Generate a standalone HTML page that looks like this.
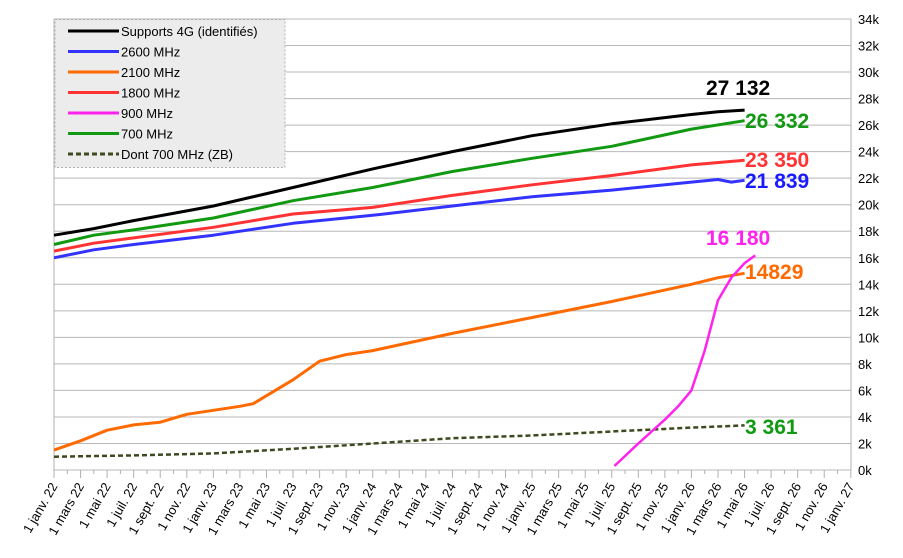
<!DOCTYPE html>
<html><head><meta charset="utf-8"><style>
body{margin:0;background:#fff;}
svg text{font-family:"Liberation Sans",sans-serif;}
</style></head><body>
<svg id="c" width="903" height="553" xmlns="http://www.w3.org/2000/svg"></svg>
<script>
const s=document.getElementById('c');let h='';
const X=m=>54+m*13.28, Y=v=>470-v*0.013265;
for(let k=0;k<=34;k+=2){const y=Y(k*1000);h+=`<line x1="54" x2="851" y1="${y}" y2="${y}" stroke="#b8b8b8"/>`;
h+=`<text x="858" y="${y+5}" font-size="13">${k}k</text>`;}
h+=`<line x1="54" x2="54" y1="19" y2="470" stroke="#b0b0b0"/><line x1="851" x2="851" y1="19" y2="470" stroke="#b0b0b0"/>`;
const mn=['janv.','mars','mai','juil.','sept.','nov.'];
for(let m=0;m<=60;m++){const x=X(m);h+=`<line x1="${x}" x2="${x}" y1="470" y2="${m%2?474:478}" stroke="#b0b0b0"/>`;
if(m%2==0){const t='1 '+mn[(m%12)/2]+' '+(22+Math.floor(m/12));h+=`<text x="${x+4}" y="486" font-size="13" text-anchor="end" transform="rotate(-60 ${x+4} 486)">${t}</text>`;}}
function ser(pts,col,w,dash){let d=pts.map((p,i)=>(i?'L':'M')+X(p[0]).toFixed(1)+' '+Y(p[1]).toFixed(1)).join('');
h+=`<path d="${d}" fill="none" stroke="${col}" stroke-width="${w}" stroke-linejoin="round" ${dash?'stroke-dasharray="5,3"':''}/>`;}
ser([[0,1000],[6,1100],[12,1250],[18,1600],[24,2000],[30,2400],[36,2600],[42,2900],[48,3200],[52,3361]],'#3d4a1e',2.5,1);
ser([[0,1500],[2,2200],[4,3000],[6,3400],[8,3600],[10,4200],[12,4500],[14,4800],[15,5000],[16,5600],[18,6800],[20,8200],[22,8700],[24,9000],[30,10300],[36,11500],[42,12700],[48,14000],[50,14500],[52,14829]],'#ff6a00',3);
ser([[0,16000],[3,16600],[6,17000],[12,17700],[18,18600],[24,19200],[30,19900],[36,20600],[42,21100],[48,21700],[50,21900],[51,21700],[52,21839]],'#3333ff',3);
ser([[0,16500],[3,17100],[6,17500],[12,18300],[18,19300],[24,19800],[30,20700],[36,21500],[42,22200],[48,23000],[52,23350]],'#ff3333',3);
ser([[0,17000],[3,17700],[6,18100],[12,19000],[18,20300],[24,21300],[30,22500],[36,23500],[42,24400],[48,25700],[52,26332]],'#119911',3);
ser([[0,17700],[3,18200],[6,18800],[12,19900],[18,21300],[24,22700],[30,24000],[36,25200],[42,26100],[48,26800],[50,27000],[52,27132]],'#000',3);
ser([[42.2,300],[44,2000],[46,3800],[47,4800],[48,6000],[49,9000],[50,12800],[51,14500],[52,15600],[52.8,16180]],'#ff22ee',2.5);
const lb=[[706,95,'27 132','#000'],[745,128,'26 332','#119911'],[745,167,'23 350','#ff3333'],[745,188,'21 839','#1a1aff'],[706,245,'16 180','#ff22ee'],[745,279,'14829','#ff6a00'],[745,434,'3 361','#119911']];
lb.forEach(l=>h+=`<text x="${l[0]}" y="${l[1]}" font-size="21" font-weight="bold" fill="${l[3]}">${l[2]}</text>`);
h+=`<rect x="55" y="19.5" width="230" height="148" fill="#ececec" stroke="#b0b0b0" stroke-dasharray="2,2"/>`;
const lg=[['Supports 4G (identifiés)','#000'],['2600 MHz','#3333ff'],['2100 MHz','#ff6a00'],['1800 MHz','#ff3333'],['900 MHz','#ff22ee'],['700 MHz','#119911'],['Dont 700 MHz (ZB)','#3d4a1e',1]];
lg.forEach((l,i)=>{const y=31+i*20.5;h+=`<line x1="68" x2="119" y1="${y}" y2="${y}" stroke="${l[1]}" stroke-width="3" ${l[2]?'stroke-dasharray="5,3"':''}/><text x="121" y="${y+5}" font-size="13">${l[0]}</text>`;});
s.innerHTML=h;
</script>
</body></html>
